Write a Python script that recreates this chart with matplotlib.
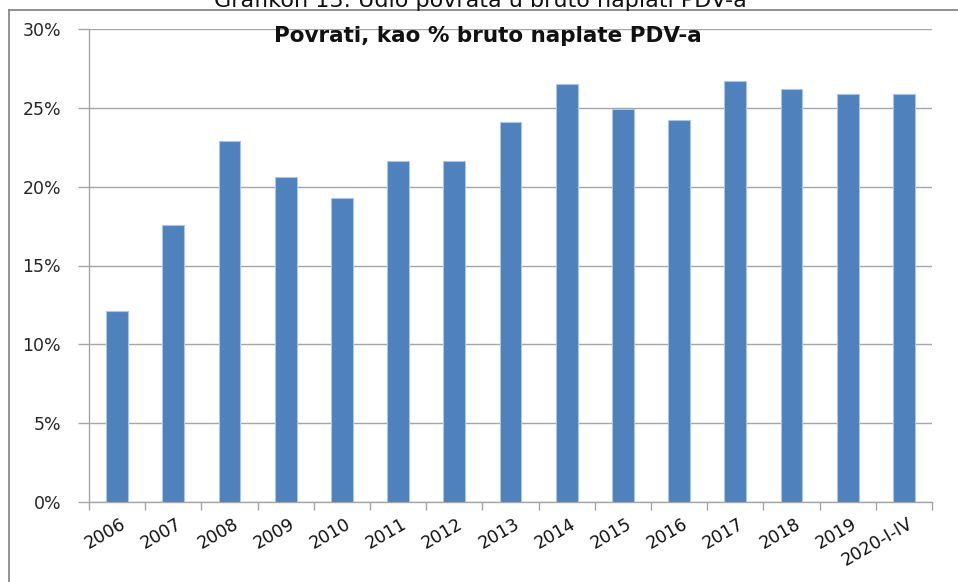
import numpy as np
import matplotlib.pyplot as plt
import matplotlib.transforms as mtransforms
from matplotlib.lines import Line2D

years = ['2006', '2007', '2008', '2009', '2010', '2011', '2012', '2013',
         '2014', '2015', '2016', '2017', '2018', '2019', '2020-I-IV']
refund_share = [12.1, 17.6, 22.9, 20.6, 19.3, 21.6, 21.6, 24.1,
                26.5, 24.9, 24.2, 26.7, 26.2, 25.9, 25.9]
y_ticks = [0, 5, 10, 15, 20, 25, 30]

W, H = 958, 582
fig = plt.figure(figsize=(W / 100, H / 100), dpi=100)
ax = fig.add_axes([89 / W, (H - 502) / H, (932 - 89) / W, (502 - 29) / H])

x = np.arange(len(years))
ax.bar(x, refund_share, width=0.39, color='#4F81BD', edgecolor='#A9C6E8',
       linewidth=0.8, zorder=3)

grid_c = '#A6A6A6'
ax.set_xlim(-0.5, len(years) - 0.5)
ax.set_ylim(0, 30)
ax.set_yticks(y_ticks)
ax.set_yticklabels([f'{t}%' for t in y_ticks], fontsize=12.5,
                   family='DejaVu Sans', color='#262626')
ax.yaxis.grid(True, color=grid_c, linewidth=1.0, zorder=0)
ax.tick_params(axis='y', length=8, color=grid_c, width=1.0, pad=12)

ax.set_xticks(x)
ax.set_xticklabels(years, rotation=30, ha='right', va='top', rotation_mode='anchor',
                   fontsize=12.5, family='DejaVu Sans', color='#111111')
ax.tick_params(axis='x', length=0, pad=9)
# Excel puts the end of each rotated label a little right of the bar centre
shift = mtransforms.ScaledTranslation(3 / 100, 0, fig.dpi_scale_trans)
for lab in ax.get_xticklabels():
    lab.set_transform(lab.get_transform() + shift)
ax.set_xticks(np.arange(len(years) + 1) - 0.5, minor=True)
ax.tick_params(axis='x', which='minor', length=6, color=grid_c, width=1.0)

for s in ['top', 'right']:
    ax.spines[s].set_visible(False)
for s in ['left', 'bottom']:
    ax.spines[s].set_color(grid_c)
    ax.spines[s].set_linewidth(1.0)

fig.text(488 / W, 1 - 42 / H, 'Povrati, kao % bruto naplate PDV-a',
         ha='center', va='baseline', fontsize=15.5, fontweight='bold',
         family='DejaVu Sans', color='#111111')

# outer chart frame
frame_c = '#7F7F7F'
fig.add_artist(Line2D([9 / W, 9 / W], [0, 1 - 10 / H], transform=fig.transFigure,
                      color=frame_c, linewidth=1.2))
fig.add_artist(Line2D([9 / W, 1], [1 - 10 / H, 1 - 10 / H], transform=fig.transFigure,
                      color=frame_c, linewidth=1.2))

# document caption, cut at the top edge
fig.text(480 / W, 1 - 7 / H, 'Grafikon 13: Udio povrata u bruto naplati PDV-a',
         ha='center', va='baseline', fontsize=16, family='DejaVu Sans', color='#111111')

fig.savefig('out.png', dpi=100)
